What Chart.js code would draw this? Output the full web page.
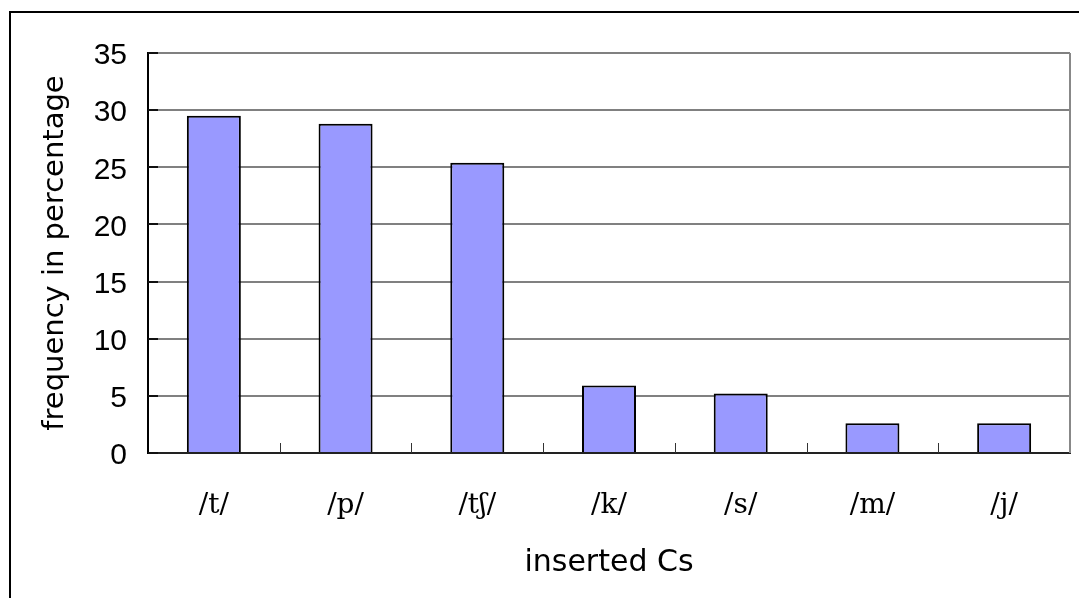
<!DOCTYPE html>
<html>
<head>
<meta charset="utf-8">
<script src="https://cdn.jsdelivr.net/npm/chart.js@4/dist/chart.umd.min.js"></script>
<style>
  html, body { margin: 0; padding: 0; background: #fff; }
  canvas { display: block; }
</style>
</head>
<body>
<canvas id="c" width="1079" height="598"></canvas>
<script>
// Inserted consonants and their share (%)
const categories = ['/t/', '/p/', '/t\u0283/', '/k/', '/s/', '/m/', '/j/'];
const frequencies = [29.5, 28.8, 25.4, 5.9, 5.2, 2.6, 2.6];
const yTicks = [0, 5, 10, 15, 20, 25, 30, 35];

const sansTitle = 'DejaVu Sans, sans-serif';
const sansTicks = 'Liberation Sans, Arial, sans-serif';
const serifLabels = 'DejaVu Serif, Liberation Serif, serif';

// Frame, inner tick marks and right plot border
const decorations = {
  id: 'decorations',
  afterDatasetsDraw(chart) {
    const { ctx, chartArea: a, scales: { x, y } } = chart;
    ctx.save();
    // right border of the plot area
    ctx.strokeStyle = '#888';
    ctx.lineWidth = 2;
    ctx.beginPath();
    ctx.moveTo(a.right, a.top);
    ctx.lineTo(a.right, a.bottom);
    ctx.stroke();
    // y ticks pointing into the plot
    ctx.strokeStyle = '#111';
    ctx.lineWidth = 2;
    yTicks.forEach(v => {
      const py = Math.round(y.getPixelForValue(v));
      ctx.beginPath();
      ctx.moveTo(a.left, py);
      ctx.lineTo(a.left + 10, py);
      ctx.stroke();
    });
    // x ticks at category boundaries, pointing up
    ctx.strokeStyle = '#333';
    ctx.lineWidth = 1;
    for (let i = 1; i < categories.length; i++) {
      const px = Math.round((x.getPixelForValue(i - 1) + x.getPixelForValue(i)) / 2) + 0.5;
      ctx.beginPath();
      ctx.moveTo(px, a.bottom);
      ctx.lineTo(px, a.bottom - 10);
      ctx.stroke();
    }
    // outer frame (left and top edges)
    ctx.strokeStyle = '#000';
    ctx.lineWidth = 2;
    ctx.beginPath();
    ctx.moveTo(10, chart.height);
    ctx.lineTo(10, 12);
    ctx.lineTo(chart.width, 12);
    ctx.stroke();
    ctx.restore();
  }
};

new Chart(document.getElementById('c'), {
  type: 'bar',
  data: {
    labels: categories,
    datasets: [{
      data: frequencies,
      backgroundColor: '#9999ff',
      borderColor: '#000',
      borderWidth: 2,
      categoryPercentage: 1,
      barPercentage: 0.41
    }]
  },
  options: {
    responsive: false,
    animation: false,
    layout: { padding: { left: 0, top: 53, right: 9, bottom: 0 } },
    plugins: { legend: { display: false }, tooltip: { enabled: false } },
    scales: {
      x: {
        grid: { display: false, drawTicks: false },
        border: { display: true, color: '#222', width: 2 },
        ticks: {
          padding: 36,
          color: '#000',
          font: { family: serifLabels, size: 28 }
        },
        title: {
          display: true,
          text: 'inserted Cs',
          color: '#000',
          font: { family: sansTitle, size: 30 },
          padding: { top: 0, bottom: 17 }
        },
        afterFit(scale) { scale.height = 145; }
      },
      y: {
        min: 0,
        max: 35,
        afterBuildTicks(scale) { scale.ticks = yTicks.map(v => ({ value: v })); },
        grid: { color: '#808080', lineWidth: 2, drawTicks: false },
        border: { display: true, color: '#000', width: 2 },
        ticks: {
          padding: 21,
          labelOffset: 3,
          color: '#000',
          font: { family: sansTicks, size: 30 }
        },
        title: {
          display: true,
          text: 'frequency in percentage',
          color: '#000',
          font: { family: sansTitle, size: 29 },
          padding: { top: 38, bottom: 0 }
        },
        afterFit(scale) { scale.width = 148; }
      }
    }
  },
  plugins: [decorations]
});
</script>
</body>
</html>
